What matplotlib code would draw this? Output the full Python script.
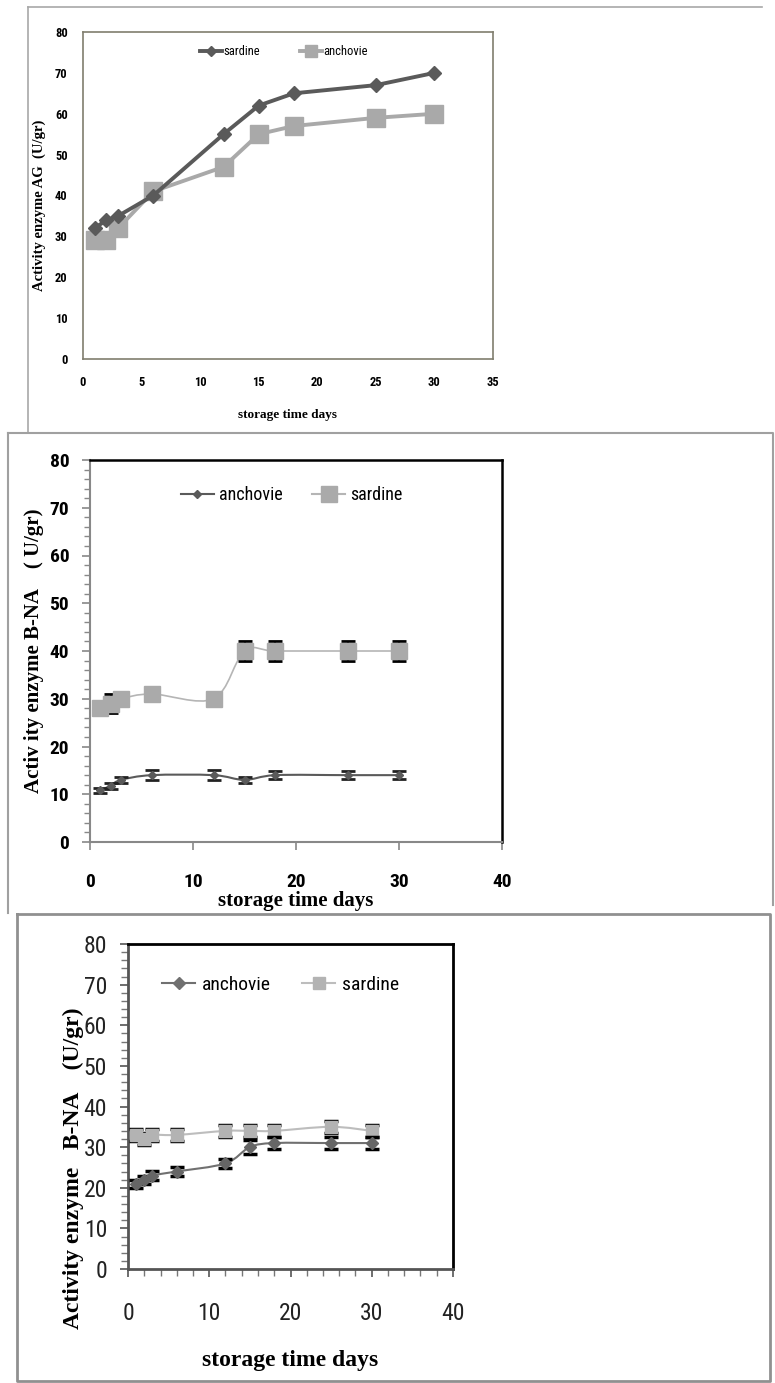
import numpy as np
import matplotlib
matplotlib.use("Agg")
import matplotlib.pyplot as plt
from matplotlib.path import Path
from matplotlib.patches import PathPatch
from matplotlib.lines import Line2D
from matplotlib import font_manager

# storage days, shared by the three panels
days = [1, 2, 3, 6, 12, 15, 18, 25, 30]

# panel 1: enzyme AG
ag_sardine = [32, 34, 35, 40, 55, 62, 65, 67, 70]
ag_anchovie = [29, 29, 32, 41, 47, 55, 57, 59, 60]

# panel 2: enzyme B-NA
bna1_anchovie = [10.8, 11.8, 13, 14, 14, 13, 14, 14, 14]
bna1_anchovie_err = [0.6, 0.6, 0.6, 1.0, 1.0, 0.6, 0.8, 0.8, 0.8]
bna1_sardine = [28, 29, 30, 31, 30, 40, 40, 40, 40]
bna1_sardine_err = [1.5, 2.0, 1.5, 1.5, 1.5, 2.0, 2.0, 2.0, 2.0]

# panel 3: enzyme B-NA
bna2_anchovie = [21, 22, 23, 24, 26, 30, 31, 31, 31]
bna2_anchovie_err = [1.0, 1.0, 1.2, 1.2, 1.2, 1.8, 1.5, 1.5, 1.5]
bna2_sardine = [33, 32, 33, 33, 34, 34, 34, 35, 34]
bna2_sardine_err = [1.5, 1.5, 1.5, 1.5, 1.5, 1.5, 1.5, 1.5, 1.5]

DARK = "#5a5a5a"
LIGHT = "#a9a9a9"


def pick_font(names):
    installed = {f.name for f in font_manager.fontManager.ttflist}
    for n in names:
        if n in installed:
            return n
    return "DejaVu Sans"


NARROW = pick_font(["Liberation Sans Narrow", "Roboto Condensed", "Liberation Sans"])
SERIF = pick_font(["Liberation Serif", "DejaVu Serif"])

W, H = 775, 1383
fig = plt.figure(figsize=(W / 100, H / 100), dpi=100)


def axes_px(left, top, right, bottom):
    return fig.add_axes([left / W, 1 - bottom / H, (right - left) / W, (bottom - top) / H])


def fig_line(xs, ys, color, lw):
    fig.add_artist(Line2D([x / W for x in xs], [1 - y / H for y in ys],
                          color=color, lw=lw, transform=fig.transFigure))


def smooth_path(x, y):
    # excel-style smoothed connector through the data points
    x = np.asarray(x, float)
    y = np.asarray(y, float)
    pts = np.column_stack([x, y])
    ext = np.vstack([pts[0], pts, pts[-1]])
    verts = [pts[0]]
    codes = [Path.MOVETO]
    for i in range(len(pts) - 1):
        p0, p1, p2, p3 = ext[i], ext[i + 1], ext[i + 2], ext[i + 3]
        verts += [p1 + (p2 - p0) / 6.0, p2 - (p3 - p1) / 6.0, p2]
        codes += [Path.CURVE4] * 3
    return Path(verts, codes)


# outer frames
fig_line([28, 762], [7, 7], "#a8a8a8", 1.2)
fig_line([28, 28], [7, 432], "#a8a8a8", 1.2)
fig_line([8, 773, 773], [433, 433, 905], "#a0a0a0", 1.5)
fig_line([8, 8], [433, 913], "#a0a0a0", 1.5)
fig_line([17, 770, 770, 17, 17], [914, 914, 1381, 1381, 914], "#909090", 2.0)

# ---------------- panel 1 ----------------
ax1 = axes_px(83, 32, 493, 359)
ax1.plot(days, ag_sardine, "-", color=DARK, lw=2.8, marker="D", ms=7, label="sardine", zorder=3)
ax1.plot(days, ag_anchovie, "-", color=LIGHT, lw=2.8, marker="s", ms=13, label="anchovie", zorder=2)
ax1.set_xlim(0, 35)
ax1.set_ylim(0, 80)
ax1.set_xticks(range(0, 36, 5))
ax1.set_yticks(range(0, 81, 10))
ax1.tick_params(length=0, pad=12, labelsize=9)
ax1.tick_params(axis="y", pad=11)
for lab in ax1.get_xticklabels() + ax1.get_yticklabels():
    lab.set_fontfamily(NARROW)
    lab.set_fontweight("bold")
for s in ax1.spines.values():
    s.set_color("#807e6e")
    s.set_linewidth(1.2)
ax1.set_xlabel("storage time days", fontfamily=SERIF, fontweight="bold", fontsize=9.5)
ax1.xaxis.set_label_coords(0.5, -0.152)
ax1.set_ylabel("Activity enzyme AG  (U/gr)", fontfamily=SERIF, fontweight="bold", fontsize=10.5)
ax1.yaxis.set_label_coords(-0.09, 0.47)
ax1.legend(loc="center", bbox_to_anchor=(0.49, 0.94), ncol=2, frameon=False,
           prop={"family": NARROW, "size": 9}, handlelength=1.8, handletextpad=0.1,
           columnspacing=3.2, markerscale=0.7)

# ---------------- panel 2 ----------------
ax2 = axes_px(90, 460, 502, 842)
ax2.add_patch(PathPatch(smooth_path(days, bna1_sardine), fill=False, ec="#b5b5b5", lw=1.2, zorder=2))
ax2.add_patch(PathPatch(smooth_path(days, bna1_anchovie), fill=False, ec=DARK, lw=1.5, zorder=2))
ax2.errorbar(days, bna1_sardine, yerr=bna1_sardine_err, fmt="s", color="#aaaaaa", ms=12,
             ecolor="black", elinewidth=1.3, capsize=5, capthick=2, zorder=3)
ax2.errorbar(days, bna1_anchovie, yerr=bna1_anchovie_err, fmt="D", color=DARK, ms=4,
             ecolor="#222222", elinewidth=1.3, capsize=5, capthick=2, zorder=4)
ax2.set_xlim(0, 40)
ax2.set_ylim(0, 80)
ax2.set_xticks(range(0, 41, 10))
ax2.set_yticks(range(0, 81, 10))
ax2.set_yticks(np.arange(0, 81, 2), minor=True)
ax2.tick_params(axis="x", direction="out", length=6, width=1.2, color="#888888", pad=16, labelsize=14)
ax2.tick_params(axis="y", which="major", direction="out", length=6, width=1.2, color="#888888", pad=9, labelsize=14)
ax2.tick_params(axis="y", which="minor", direction="out", length=4, width=1, color="#888888")
for lab in ax2.get_xticklabels() + ax2.get_yticklabels():
    lab.set_fontfamily(NARROW)
    lab.set_fontweight("bold")
ax2.spines["left"].set_color("#888888")
ax2.spines["bottom"].set_color("#888888")
ax2.spines["left"].set_linewidth(1.5)
ax2.spines["bottom"].set_linewidth(1.5)
ax2.spines["top"].set_linewidth(1.8)
ax2.spines["right"].set_linewidth(1.8)
ax2.set_xlabel("storage time days", fontfamily=SERIF, fontweight="bold", fontsize=15)
ax2.xaxis.set_label_coords(0.5, -0.128)
ax2.set_ylabel("Activ ity enzyme B-NA    ( U/gr)", fontfamily=SERIF, fontweight="bold", fontsize=15)
ax2.yaxis.set_label_coords(-0.112, 0.5)
h2 = [Line2D([], [], color=DARK, lw=1.5, marker="D", ms=4),
      Line2D([], [], color="#b5b5b5", lw=1.5, marker="s", ms=12, mfc="#aaaaaa", mec="#aaaaaa")]
ax2.legend(h2, ["anchovie", "sardine"], loc="center", bbox_to_anchor=(0.49, 0.908), ncol=2,
           frameon=False, prop={"family": NARROW, "size": 13}, handlelength=1.8,
           handletextpad=0.3, columnspacing=1.65)

# ---------------- panel 3 ----------------
ax3 = axes_px(128, 944, 453, 1269)
ax3.add_patch(PathPatch(smooth_path(days, bna2_sardine), fill=False, ec="#bdbdbd", lw=1.5, zorder=2))
ax3.add_patch(PathPatch(smooth_path(days, bna2_anchovie), fill=False, ec="#707070", lw=1.5, zorder=2))
ax3.errorbar(days, bna2_sardine, yerr=bna2_sardine_err, fmt="s", color="#b3b3b3", ms=8,
             ecolor="black", elinewidth=1.5, capsize=5, capthick=2.5, zorder=3)
ax3.errorbar(days, bna2_anchovie, yerr=bna2_anchovie_err, fmt="D", color="#666666", ms=6,
             ecolor="black", elinewidth=1.5, capsize=5, capthick=2.5, zorder=4)
ax3.set_xlim(0, 40)
ax3.set_ylim(0, 80)
ax3.set_xticks(range(0, 41, 10))
ax3.set_xticks(np.arange(0, 41, 2), minor=True)
ax3.set_yticks(range(0, 81, 10))
ax3.set_yticks(np.arange(0, 81, 2), minor=True)
ax3.tick_params(which="major", direction="out", length=6, width=1.2, color="#555555", labelsize=17)
ax3.tick_params(which="minor", direction="out", length=5, width=1, color="#777777")
ax3.tick_params(axis="x", which="major", pad=18)
ax3.tick_params(axis="y", which="major", pad=9)
for lab in ax3.get_xticklabels() + ax3.get_yticklabels():
    lab.set_fontfamily(NARROW)
    lab.set_color("#222222")
ax3.spines["left"].set_color("#555555")
ax3.spines["bottom"].set_color("#555555")
for s in ax3.spines.values():
    s.set_linewidth(2)
ax3.set_xlabel("storage time days", fontfamily=SERIF, fontweight="bold", fontsize=17)
ax3.xaxis.set_label_coords(0.5, -0.25)
ax3.set_ylabel("Activity enzyme   B-NA    (U/gr)", fontfamily=SERIF, fontweight="bold", fontsize=17)
ax3.yaxis.set_label_coords(-0.135, 0.31)
h3 = [Line2D([], [], color="#707070", lw=1.5, marker="D", ms=6),
      Line2D([], [], color="#bdbdbd", lw=1.5, marker="s", ms=8, mfc="#b3b3b3", mec="#b3b3b3")]
ax3.legend(h3, ["anchovie", "sardine"], loc="center", bbox_to_anchor=(0.47, 0.874), ncol=2,
           frameon=False, prop={"family": NARROW, "size": 14}, handlelength=1.7,
           handletextpad=0.35, columnspacing=1.6)

fig.savefig("out.png", dpi=100)
